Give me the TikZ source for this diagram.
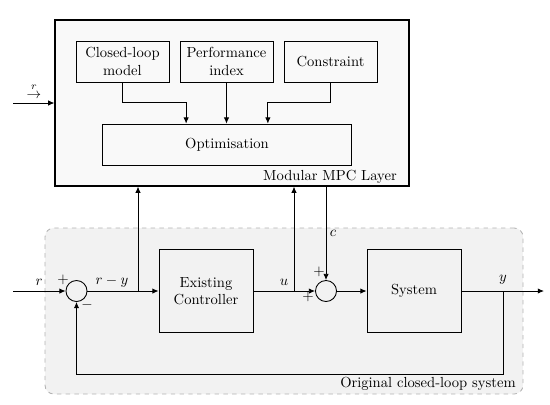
\documentclass[tikz,border=0pt]{standalone}
\usepackage{tikz}
\usetikzlibrary{
    arrows.meta,
    shapes,
    positioning,
    calc
}
\tikzset{%
    >={Latex[width=1.3mm,length=1.5mm]},
    % Specifications for style of nodes:
    plain/.style = {},
    base/.style = {
        plain,
        rectangle, draw=black, semithick,
        text centered, align=center
    },
    block/.style = {base, minimum width=64.4pt, minimum height=56.9pt},
    part/.style = {base, minimum width=63.7pt, minimum height=28pt},
    junction/.style = {circle, draw=black, semithick, minimum size=14.4pt, inner sep=0pt},
    layer/.style = {rectangle, draw=black, thick, fill=gray!5},
    loopbg/.style = {rectangle, rounded corners=6pt, dashed, draw=gray!60, fill=gray!10, semithick},
    sign/.style = {inner sep=0pt},
    wire/.style = {semithick}
}

\begin{document}
\begin{tikzpicture}[x=0.685pt, y=-0.685pt]
    \useasboundingbox (0,0) rectangle (550,404);
    % frames
    \node[loopbg, minimum width=327.4pt, minimum height=113.7pt] (loop) at (284,311) {};
    \node[layer, minimum width=242.5pt, minimum height=113.7pt] (mpc) at (232,103) {};
    \node[anchor=base east, inner sep=0pt] (looplbl) at (516,387) {Original closed-loop system};
    \node[anchor=base east, inner sep=0pt] (mpclbl) at (397,180) {Modular MPC Layer};
    % MPC layer
    \node[part] (clm) at (122.5,61.5) {Closed-loop\\model};
    \node[part] (perf) at (226.5,61.5) {Performance\\index};
    \node[part] (cons) at (330.5,61.5) {Constraint};
    \node[base, minimum width=171pt, minimum height=28pt] (opt) at (227,144.5) {Optimisation};
    \draw[->, wire] (clm.south) |- ([xshift=-28pt,yshift=14.4pt]opt.north) -- ([xshift=-28pt]opt.north);
    \draw[->, wire] (perf.south) -- (perf.south |- opt.north);
    \draw[->, wire] (cons.south) |- ([xshift=28pt,yshift=14.4pt]opt.north) -- ([xshift=28pt]opt.north);
    \coordinate (rtop) at (13,103);
    \draw[->, wire] (rtop) -- (mpc.west);
    \node (rtoplbl) at (34,91) {$\stackrel{r}{\rightarrow}$};
    % closed loop
    \node[junction] (sum1) at (76.5,291) {};
    \node[block] (ctrl) at (206,291) {Existing\\Controller};
    \node[junction] (sum2) at (326,291) {};
    \node[block] (sys) at (414,291) {System};
    \coordinate (rin) at (13,291);
    \coordinate (b1) at (138,291);
    \coordinate (b2) at (294,291);
    \coordinate (yb) at (503,291);
    \coordinate (yout) at (544,291);
    \coordinate (fb) at (503,374);
    \draw[->, wire] (rin) -- (sum1.west);
    \draw[->, wire] (sum1.east) -- (ctrl.west);
    \draw[->, wire] (b1) -- (b1 |- mpc.south);
    \draw[->, wire] (ctrl.east) -- (sum2.west);
    \draw[->, wire] (b2) -- (b2 |- mpc.south);
    \draw[->, wire] (sum2.north |- mpc.south) -- (sum2.north);
    \draw[->, wire] (sum2.east) -- (sys.west);
    \draw[->, wire] (sys.east) -- (yout);
    \draw[->, wire] (yb) -- (fb) -| (sum1.south);
    % signals
    \node (rlbl) at (39,282) {$r$};
    \node (rylbl) at (112,282) {$r-y$};
    \node (ulbl) at (284,282) {$u$};
    \node (ylbl) at (503,280) {$y$};
    \node (clbl) at (333,233) {$c$};
    \node[sign] (p1) at (63,280) {$+$};
    \node[sign] (m1) at (87,305) {$-$};
    \node[sign] (p2) at (319,272) {$+$};
    \node[sign] (p3) at (308,297) {$+$};
\end{tikzpicture}
\end{document}
